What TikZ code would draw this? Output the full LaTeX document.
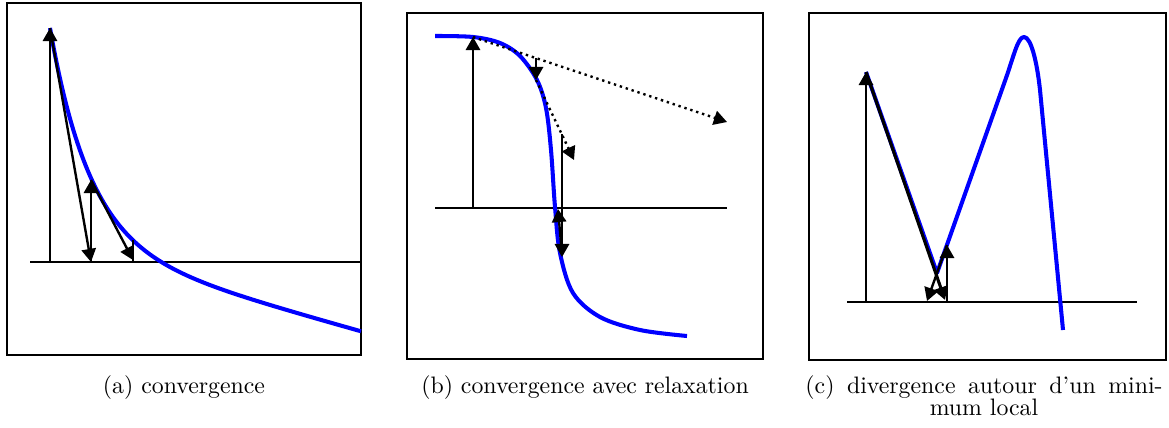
\documentclass[tikz,border=0pt]{standalone}
\usetikzlibrary{arrows.meta}
\definecolor{curveblue}{RGB}{0,0,255}
\tikzset{
  frame/.style={draw=black, line width=0.9pt},
  axisline/.style={draw=black, line width=0.6pt},
  curveline/.style={draw=curveblue, line width=1.7pt, line join=round},
  iter/.style={draw=black, line width=1pt, -{Triangle[length=5.5pt,width=6pt]}},
  plainiter/.style={draw=black, line width=1pt},
  tangent/.style={iter, dash pattern=on 1pt off 1.6pt},
  captext/.style={anchor=base, inner sep=0pt}
}
\begin{document}
\begin{tikzpicture}[x=0.42pt,y=-0.42pt]
\useasboundingbox (0,0) rectangle (1169,427);

% ---------- panel (a)
\draw[frame] (7,3) rectangle (361,355);
\coordinate (aL) at (30,262);
\coordinate (aR) at (361,262);
\draw[axisline] (aL) -- (aR);
\draw[curveline] plot[domain=50:361, samples=120, smooth]
  (\x, {262 - (216.1*exp(-(\x-50)/40) + 17.9 - 0.2806*(\x-50))});
\coordinate (a0) at (50,262);
\coordinate (ap0) at (50,28);
\coordinate (ax1) at (91,262);
\coordinate (ap1) at (91,180);
\coordinate (ax2) at (133,260);
\coordinate (ax2b) at (133,262);
\coordinate (ap2) at (133,240);
\draw[iter] (a0) -- (ap0);
\draw[iter] (ap0) -- (ax1);
\draw[iter] (ax1) -- (ap1);
\draw[iter] (ap1) -- (ax2);
\draw[plainiter] (ax2b) -- (ap2);

% ---------- panel (b)
\draw[frame] (407,13) rectangle (763,359);
\coordinate (bL) at (435,208);
\coordinate (bR) at (727,208);
\draw[axisline, line width=1.2pt] (bL) -- (bR);
\draw[curveline] plot[smooth, tension=0.55] coordinates {(435,36) (473,37) (500,43) (520,56) (537,80) (546,108) (551,150) (555,207) (560,253) (573,293) (600,317) (640,330) (687,336)};
\coordinate (b0) at (473,208);
\coordinate (bp0) at (473,37);
\coordinate (bt0) at (727,122);
\coordinate (bs1) at (536,58);
\coordinate (bp1) at (536,80);
\coordinate (bt1) at (574,160);
\coordinate (bs2) at (562,134);
\coordinate (bp2) at (562,257);
\coordinate (bq2) at (562,255);
\coordinate (bx3) at (558,209);
\draw[iter] (b0) -- (bp0);
\draw[tangent] (bp0) -- (bt0);
\draw[iter] (bs1) -- (bp1);
\draw[tangent] (bp1) -- (bt1);
\draw[iter] (bs2) -- (bp2);
\draw[iter] (bq2) -- (bx3);

% ---------- panel (c)
\draw[frame] (809,13) rectangle (1166,360);
\coordinate (cL) at (847,302);
\coordinate (cR) at (1137,302);
\draw[axisline, line width=1.1pt] (cL) -- (cR);
\draw[curveline] (866,72) -- (937,273) -- (1006,78)
  .. controls (1014,55) and (1018,37) .. (1024,37)
  .. controls (1031,37) and (1037,62) .. (1040,90) -- (1063,330);
\coordinate (c0) at (866,302);
\coordinate (cp0) at (866,72);
\coordinate (cx1) at (945,300);
\coordinate (cx1b) at (947,302);
\coordinate (cp1) at (947,245);
\coordinate (cx2) at (927,301);
\draw[iter] (c0) -- (cp0);
\draw[iter, line width=1.3pt] (cp0) -- (cx1);
\draw[iter] (cx1b) -- (cp1);
\draw[iter] (cp1) -- (cx2);

% ---------- captions
\node[captext] (capa) at (184,393) {(a) convergence};
\node[captext] (capb) at (585,393) {(b) convergence avec relaxation};
\node[captext] (capc1) at (984,393) {\makebox[150pt][s]{(c) divergence autour d’un mini-}};
\node[captext] (capc2) at (984,415) {mum local};
\end{tikzpicture}
\end{document}
